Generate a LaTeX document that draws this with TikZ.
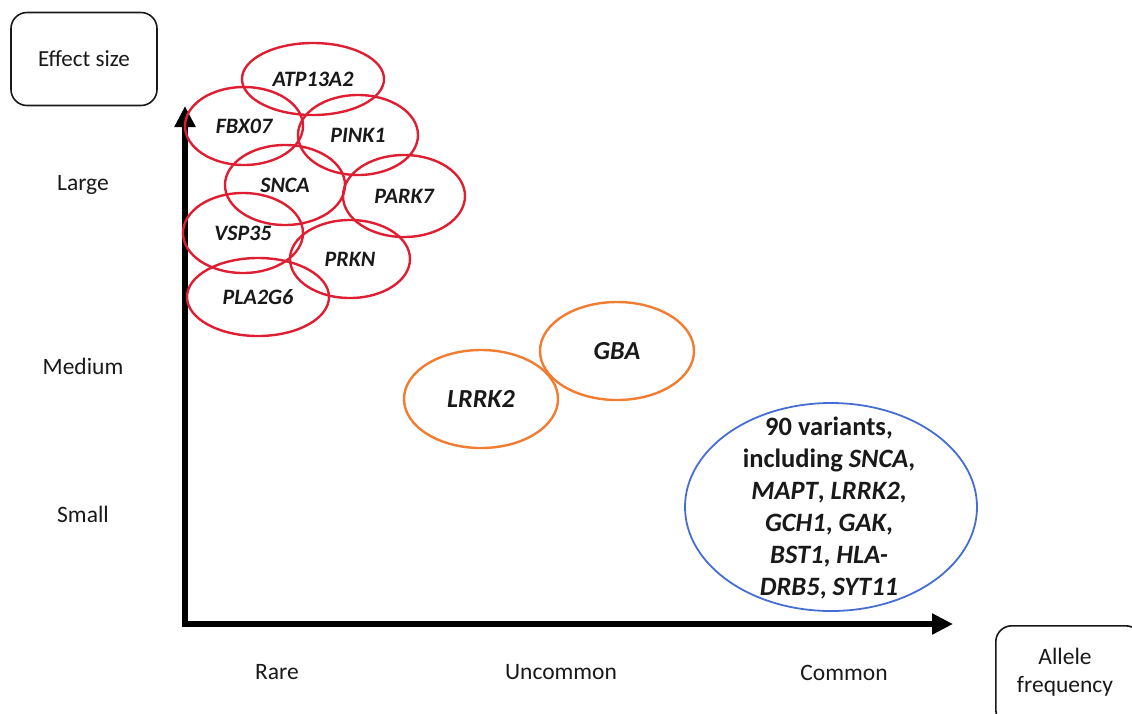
\documentclass[tikz,border=0pt]{standalone}
\usepackage{fontspec}
\setmainfont{Carlito}
\usepackage{tikz}
\usetikzlibrary{arrows.meta,shapes.geometric}
\definecolor{genered}{RGB}{222,30,50}
\definecolor{geneorange}{RGB}{240,125,50}
\definecolor{geneblue}{RGB}{70,110,210}
\definecolor{inkgrey}{RGB}{25,25,25}

\begin{document}
\begin{tikzpicture}[
  x=1pt, y=-1pt,
  every node/.style={text=inkgrey},
  titlebox/.style={draw=inkgrey, rounded corners=16pt, line width=1.6pt,
                   align=center, font=\fontsize{23}{29}\selectfont},
  tick/.style={font=\fontsize{23.5}{28}\selectfont},
  rare/.style={ellipse, draw=genered, line width=2.4pt, inner sep=0pt,
               font=\fontsize{22}{26}\selectfont\bfseries\itshape},
  uncommon/.style={ellipse, draw=geneorange, line width=2.4pt, inner sep=0pt,
                   minimum width=154pt, minimum height=98pt,
                   font=\fontsize{26}{30}\selectfont\bfseries\itshape},
  common/.style={ellipse, draw=geneblue, line width=1.8pt, inner sep=0pt,
                 minimum width=292pt, minimum height=208pt},
  commontext/.style={align=center, inner sep=0pt,
                     font=\fontsize{26.5}{32}\selectfont\bfseries},
  axis/.style={-{Triangle[length=21pt, width=20pt]}, line width=5.5pt, black}
]
  \useasboundingbox (0,0) rectangle (1132,713);

  % --- corner boxes -------------------------------------------------
  \node[titlebox, minimum width=146pt, minimum height=93pt] (effect) at (84,59) {Effect size};
  \begin{scope}
    \clip (0,0) rectangle (1132,713);
    \node[titlebox, minimum width=146pt, minimum height=100pt, anchor=north west] (allele) at (995,625) {};
  \end{scope}
  \node[tick, align=center] (allelelabel) at (1065,672) {Allele\\frequency};

  % --- axes ---------------------------------------------------------
  \coordinate (origin) at (185,627);
  \coordinate (ytop) at (185,106);
  \coordinate (xstart) at (182.25,624);
  \coordinate (xend) at (953,624);
  \draw[axis] (origin) -- (ytop);
  \draw[axis] (xstart) -- (xend);

  % --- axis labels --------------------------------------------------
  \node[tick] (large)  at (83,185) {Large};
  \node[tick] (medium) at (83,366) {Medium};
  \node[tick] (small)  at (83,514) {Small};
  \node[tick] (rarelabel)     at (277,672) {Rare};
  \node[tick] (uncommonlabel) at (561,672) {Uncommon};
  \node[tick] (commonlabel)   at (844,673) {Common};

  % --- rare variants, large effect ---------------------------------
  \node[rare, minimum width=142pt, minimum height=72pt] (atp)  at (313,79)  {ATP13A2};
  \node[rare, minimum width=118pt, minimum height=78pt] (fbx)  at (244,126) {FBX07};
  \node[rare, minimum width=120pt, minimum height=80pt] (pink) at (358,135) {PINK1};
  \node[rare, minimum width=120pt, minimum height=80pt] (snca) at (285,185) {SNCA};
  \node[rare, minimum width=122pt, minimum height=82pt] (park) at (404,196) {PARK7};
  \node[rare, minimum width=120pt, minimum height=80pt] (vsp)  at (243,233) {VSP35};
  \node[rare, minimum width=120pt, minimum height=78pt] (prkn) at (350,259) {PRKN};
  \node[rare, minimum width=142pt, minimum height=78pt] (pla)  at (258,297) {PLA2G6};

  % --- uncommon variants, medium effect ----------------------------
  \node[uncommon] (lrrk) at (481,399) {LRRK2};
  \node[uncommon] (gba)  at (617,351) {GBA};

  % --- common variants, small effect -------------------------------
  \node[common] (gwasring) at (831,507) {};
  \node[commontext] (gwas) at (829,508) {90 variants,\\
    including \textit{SNCA},\\
    \textit{MAPT}, \textit{LRRK2},\\
    \textit{GCH1}, \textit{GAK},\\
    \textit{BST1}, \textit{HLA-}\\
    \textit{DRB5}, \textit{SYT11}};
\end{tikzpicture}
\end{document}
